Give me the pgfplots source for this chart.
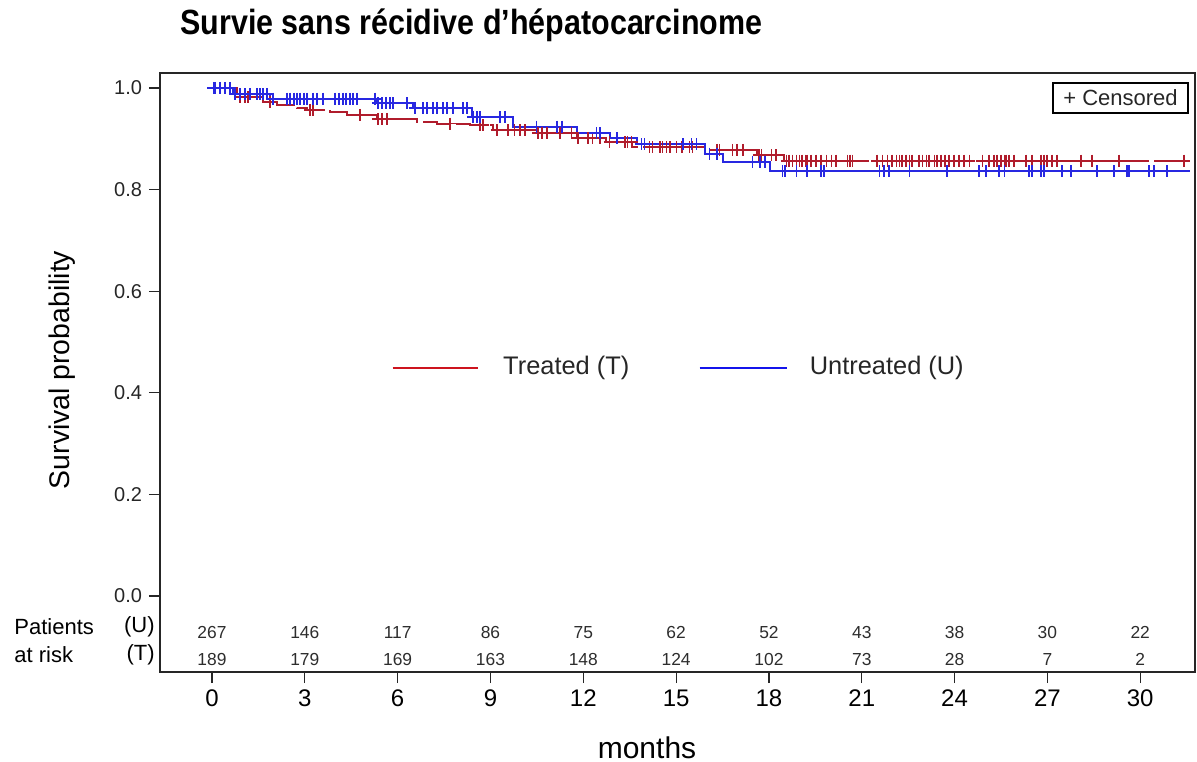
\documentclass[border=0pt]{standalone}
\usepackage{pgfplots}
\pgfplotsset{compat=1.18}
\usepackage{fontspec}
\setmainfont{Liberation Sans}
\usepackage{graphicx}
\definecolor{cred}{RGB}{176,28,44}
\definecolor{cblue}{RGB}{40,40,225}
\definecolor{lred}{RGB}{205,20,30}
\definecolor{lblue}{RGB}{20,20,235}
\definecolor{txt}{RGB}{45,45,45}
\tikzset{risk/.style={font=\fontsize{8.7bp}{10bp}\selectfont, text=txt, inner sep=0pt, anchor=base}}
\begin{document}
\begin{tikzpicture}
\path[use as bounding box] (0,0) rectangle (598.5bp,381bp);
\begin{axis}[
  at={(80bp,45bp)}, anchor=south west,
  scale only axis, width=517.5bp, height=299.5bp,
  xmin=-1.68, xmax=31.77, ymin=-0.1496, ymax=1.0295,
  axis line style={black!85, line width=0.6bp},
  xtick={0,3,6,9,12,15,18,21,24,27,30},
  ytick={0,0.2,0.4,0.6,0.8,1},
  tick align=outside, xtick pos=bottom, ytick pos=left,
  major tick length=5.5bp,
  tick style={black!85, line width=0.6bp},
  yticklabel style={font=\fontsize{10bp}{12bp}\selectfont, text=black!85,
     /pgf/number format/fixed, /pgf/number format/fixed zerofill,
     /pgf/number format/precision=1, /pgf/number format/assume math mode=true},
  xticklabel style={font=\fontsize{12bp}{14bp}\selectfont, /pgf/number format/assume math mode=true},
]
% Treated (red, dashed)
\addplot[const plot, color=cred, line width=1bp, dash pattern=on 15bp off 2.5bp] coordinates {
(0,1) (0.81,0.982) (1.65,0.973) (2.10,0.966) (2.74,0.960) (3.07,0.957) (3.81,0.952) (4.36,0.947)
(5.33,0.939) (6.62,0.934) (7.27,0.930) (8.33,0.927) (9.07,0.917) (10.49,0.911) (11.79,0.902)
(12.75,0.894) (13.59,0.884) (15.92,0.878) (17.6,0.868) (18.5,0.857) (31.6,0.857)};
\addplot[only marks, mark=+, mark size=3bp, color=cred, line width=0.9bp] coordinates {
(0.90,0.982) (1.07,0.982) (1.16,0.982) (1.87,0.973) (3.16,0.957) (3.26,0.957) (4.78,0.947)
(5.36,0.939) (5.49,0.939) (5.65,0.939) (7.68,0.930) (8.65,0.927) (8.75,0.927)
(9.20,0.917) (9.56,0.917) (9.78,0.917) (9.95,0.917) (10.11,0.917)
(10.53,0.911) (10.66,0.911) (10.82,0.911) (11.24,0.911) (11.62,0.911)
(11.82,0.902) (12.14,0.902) (12.30,0.902) (12.53,0.902)
(12.85,0.894) (13.34,0.894) (13.43,0.894) (13.56,0.894)
(14.14,0.884) (14.24,0.884) (14.47,0.884) (14.56,0.884) (14.69,0.884) (14.79,0.884) (15.01,0.884) (15.18,0.884) (15.43,0.884) (15.53,0.884)
(16.31,0.878) (16.40,0.878) (16.82,0.878) (16.98,0.878) (17.15,0.878)
(17.69,0.868) (17.76,0.868) (18.08,0.868) (18.24,0.868)
(18.57,0.857) (18.66,0.857) (18.76,0.857) (18.89,0.857) (18.99,0.857) (19.08,0.857) (19.18,0.857) (19.24,0.857)
(19.37,0.857) (19.53,0.857) (19.69,0.857) (19.86,0.857) (20.02,0.857) (20.18,0.857) (20.54,0.857) (20.63,0.857)
(20.70,0.857) (21.50,0.857) (21.67,0.857) (21.83,0.857) (21.99,0.857) (22.12,0.857) (22.22,0.857) (22.31,0.857)
(22.44,0.857) (22.54,0.857) (22.63,0.857) (22.86,0.857) (22.96,0.857) (23.09,0.857) (23.18,0.857) (23.35,0.857)
(23.44,0.857) (23.57,0.857) (23.70,0.857) (23.83,0.857) (23.99,0.857) (24.15,0.857) (24.31,0.857) (24.48,0.857)
(24.90,0.857) (25.12,0.857) (25.28,0.857) (25.38,0.857) (25.51,0.857) (25.61,0.857) (25.67,0.857) (25.77,0.857)
(25.93,0.857) (26.32,0.857) (26.51,0.857) (26.80,0.857) (26.90,0.857) (26.99,0.857) (27.16,0.857) (27.32,0.857)
(28.09,0.857) (28.45,0.857) (29.32,0.857) (31.42,0.857)};
% Untreated (blue)
\addplot[const plot, color=cblue, line width=1bp] coordinates {
(-0.15,1) (0.68,0.988) (1.87,0.979) (5.33,0.970) (6.49,0.960) (8.40,0.943) (9.72,0.924)
(11.79,0.911) (12.85,0.901) (13.72,0.889) (15.92,0.871) (16.50,0.855) (18.02,0.836) (31.6,0.836)};
\addplot[only marks, mark=+, mark size=3bp, color=cblue, line width=0.9bp] coordinates {
(0.05,1) (0.10,1) (0.26,1) (0.42,1) (0.58,1)
(0.74,0.988) (0.90,0.988) (1.07,0.988) (1.23,0.988) (1.45,0.988) (1.55,0.988) (1.65,0.988) (1.78,0.988)
(1.97,0.979) (2.42,0.979) (2.52,0.979) (2.65,0.979) (2.74,0.979) (2.84,0.979) (2.97,0.979) (3.07,0.979)
(3.26,0.979) (3.39,0.979) (3.58,0.979) (3.97,0.979) (4.10,0.979) (4.23,0.979) (4.33,0.979) (4.46,0.979)
(4.55,0.979) (4.68,0.979) (5.26,0.979)
(5.36,0.970) (5.49,0.970) (5.62,0.970) (5.75,0.970) (5.84,0.970) (6.30,0.970)
(6.55,0.960) (6.81,0.960) (6.94,0.960) (7.14,0.960) (7.27,0.960) (7.46,0.960) (7.59,0.960) (7.78,0.960) (8.10,0.960) (8.23,0.960)
(8.43,0.943) (8.56,0.943) (8.65,0.943) (9.30,0.943) (9.46,0.943)
(10.49,0.924) (11.14,0.924) (11.30,0.924)
(12.43,0.911) (12.53,0.911) (13.08,0.901)
(13.88,0.889) (13.98,0.889) (15.21,0.889) (15.50,0.889) (15.66,0.889)
(16.08,0.871) (16.31,0.871) (17.47,0.855) (17.70,0.855) (17.86,0.855)
(18.44,0.836) (18.53,0.836) (18.89,0.836) (19.24,0.836) (19.69,0.836) (19.79,0.836) (21.57,0.836) (21.73,0.836)
(21.89,0.836) (22.54,0.836) (23.76,0.836) (24.80,0.836) (25.02,0.836) (25.44,0.836) (25.61,0.836) (26.41,0.836)
(26.51,0.836) (26.80,0.836) (26.90,0.836) (27.48,0.836) (27.77,0.836) (28.61,0.836) (29.16,0.836) (29.58,0.836)
(29.64,0.836) (30.29,0.836) (30.45,0.836) (30.87,0.836)};
% legend inside
\draw[lred, line width=0.8bp] (axis cs:5.84,0.449) -- (axis cs:8.59,0.449);
\node[anchor=west, inner sep=0pt, font=\fontsize{12.7bp}{15bp}\selectfont, text=black!85] at (axis cs:9.40,0.449) {Treated (T)};
\draw[lblue, line width=0.8bp] (axis cs:15.76,0.449) -- (axis cs:18.57,0.449);
\node[anchor=west, inner sep=0pt, font=\fontsize{12.7bp}{15bp}\selectfont, text=black!85] at (axis cs:19.31,0.449) {Untreated (U)};
% numbers at risk
\node[risk] at (axis cs:0,-0.083) {267};  \node[risk] at (axis cs:0,-0.136) {189};
\node[risk] at (axis cs:3,-0.083) {146};  \node[risk] at (axis cs:3,-0.136) {179};
\node[risk] at (axis cs:6,-0.083) {117};  \node[risk] at (axis cs:6,-0.136) {169};
\node[risk] at (axis cs:9,-0.083) {86};   \node[risk] at (axis cs:9,-0.136) {163};
\node[risk] at (axis cs:12,-0.083) {75};  \node[risk] at (axis cs:12,-0.136) {148};
\node[risk] at (axis cs:15,-0.083) {62};  \node[risk] at (axis cs:15,-0.136) {124};
\node[risk] at (axis cs:18,-0.083) {52};  \node[risk] at (axis cs:18,-0.136) {102};
\node[risk] at (axis cs:21,-0.083) {43};  \node[risk] at (axis cs:21,-0.136) {73};
\node[risk] at (axis cs:24,-0.083) {38};  \node[risk] at (axis cs:24,-0.136) {28};
\node[risk] at (axis cs:27,-0.083) {30};  \node[risk] at (axis cs:27,-0.136) {7};
\node[risk] at (axis cs:30,-0.083) {22};  \node[risk] at (axis cs:30,-0.136) {2};
\end{axis}
% censored box
\node[draw=black, line width=0.6bp, inner sep=0pt, minimum width=67.5bp, minimum height=15bp, font=\fontsize{11bp}{13bp}\selectfont, text=black!85] at (560.25bp,332bp) {+ Censored};
% title
\node[anchor=west, inner sep=0pt] at (90bp,368.5bp) {\resizebox{291bp}{\height}{\fontsize{17.5bp}{20bp}\selectfont\bfseries Survie sans récidive d’hépatocarcinome}};
% axis labels
\node[rotate=90, inner sep=0pt, font=\fontsize{14.2bp}{17bp}\selectfont, text=black] at (31bp,196bp) {Survival probability};
\node[inner sep=0pt, font=\fontsize{15bp}{17bp}\selectfont, text=black] at (323.5bp,7bp) {months};
% risk table labels
\node[anchor=west, inner sep=0pt, font=\fontsize{11bp}{13bp}\selectfont] at (7bp,67.5bp) {Patients};
\node[anchor=east, inner sep=0pt, font=\fontsize{11bp}{13bp}\selectfont] at (77.5bp,67.5bp) {(U)};
\node[anchor=west, inner sep=0pt, font=\fontsize{11bp}{13bp}\selectfont] at (7bp,53.5bp) {at risk};
\node[anchor=east, inner sep=0pt, font=\fontsize{11bp}{13bp}\selectfont] at (77.5bp,53.5bp) {(T)};
\end{tikzpicture}
\end{document}
